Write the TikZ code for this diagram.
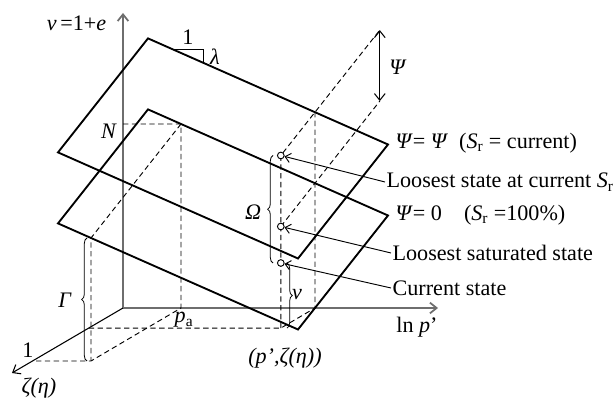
\documentclass[tikz,border=0pt]{standalone}
\usepackage{fontspec}
\setmainfont{Liberation Serif}
\usepackage{tikz}
\usetikzlibrary{arrows.meta,decorations.pathreplacing}
\definecolor{AxisGray}{HTML}{6E6E6E}

\begin{document}
\begin{tikzpicture}[x=7.5pt,y=7.5pt,font=\fontsize{16.6}{19}\selectfont,
  axis/.style={AxisGray,line width=1.3pt,-{Straight Barb[length=5pt,width=8pt]}},
  plane/.style={line width=1.4pt,line join=miter},
  guide/.style={dash pattern=on 4pt off 2.6pt,line width=.7pt},
  state/.style={circle,draw,fill=white,inner sep=0pt,minimum size=5pt,line width=.7pt},
  note/.style={-{Straight Barb[length=4pt,width=7pt]},line width=.7pt},
  curly/.style={decorate,decoration={brace,amplitude=4pt},line width=.6pt},
  lbl/.style={anchor=west,inner sep=1pt}]
\useasboundingbox (-12.3,-9) rectangle (49.3,30.8);
% axes
\coordinate (o) at (0,0);
\coordinate (vtop) at (0,29.5);
\coordinate (pend) at (31.5,0);
\coordinate (zend) at (-11.1,-6.5);
\draw[axis] (o)--(vtop);
\draw[axis] (o)--(pend);
\draw[line width=.8pt,-{Straight Barb[length=5pt,width=8pt]}] (o)--(zend);
% the two planes, Psi = 0 and Psi = Psi
\foreach \dy in {0,7.1}{\draw[plane,shift={(0,\dy)}] (2.5,19.86)--(26.5,9.25)--(17.5,-2.15)--(-6.5,8.46)--cycle;}
% construction lines
\coordinate (pup) at (15.78,15.25);
\coordinate (psat) at (15.78,8.15);
\coordinate (pcur) at (15.78,4.5);
\coordinate (pbase) at (15.78,-2.01);
\coordinate (psitop) at (25.68,27.79);
\coordinate (psibot) at (25.68,20.69);
\draw[guide] (0,18.4)--(5.8,18.4)--(5.8,0)--(-3.2,-5.3)--(-9,-5.3);
\draw[guide] (5.8,18.4)--(-3.2,7.0)--(-3.2,-5.3);
\draw[guide] (-3.42,-2.01)--(pbase)--(19.2,0)--(19.2,19.58);
\draw[guide] (pbase)--(pup)--(psitop);
\draw[guide] (psat)--(psibot);
\draw[line width=.8pt,{Straight Barb[length=5pt,width=8pt]}-{Straight Barb[length=5pt,width=8pt]}] (psibot)--(psitop);
% slope 1 : lambda
\draw[line width=.7pt] (5.0,25.85)--(8.0,25.85)--(8.0,24.53);
% states
\node[state] (sup) at (pup) {};
\node[state] (ssat) at (psat) {};
\node[state] (scur) at (pcur) {};
% braces
\draw[curly] (-3.6,-5.3)--(-3.6,7.0);
\draw[curly] (15.0,4.5)--(15.0,15.25);
\draw[curly] (16.4,4.5)--(16.4,-2.01);
% labels
\node (vlab) at (-4.65,28.5) {\textit{v}\,=1+\textit{e}};
\node (nlab) at (-1.4,17.7) {\textit{N}};
\node (slope1) at (6.5,27.1) {1};
\node (lam) at (9.2,25.1) {\textit{λ}};
\node (psilab) at (27.5,24.1) {\textit{Ψ}};
\node (glab) at (-5.8,0.8) {\textit{Γ}};
\node (olab) at (13.0,9.6) {\textit{Ω}};
\node (vvlab) at (17.4,1.3) {\textit{v}};
\node (palab) at (6.1,-1.2) {\textit{p}\textsubscript{a}};
\node (lnp) at (29.4,-1.9) {ln \textit{p}’};
\node (pzlab) at (16.2,-5.0) {\textit{(p’,ζ(η))}};
\node (onelab) at (-9.5,-4.2) {1};
\node (zlab) at (-8.4,-8.0) {\textit{ζ(η)}};
\node[lbl] (tpsi) at (27.1,16.5) {\textit{Ψ}= \textit{Ψ}\ \ (\textit{S}\textsubscript{r} = current)};
\node[lbl] (tup) at (26.2,12.6) {Loosest state at current \textit{S}\textsubscript{r}};
\node[lbl] (tzero) at (27.1,9.3) {\textit{Ψ}= 0\quad (\textit{S}\textsubscript{r} =100\%)};
\node[lbl] (tsat) at (26.8,5.5) {Loosest saturated state};
\node[lbl] (tcur) at (26.8,2.0) {Current state};
\draw[note] (tup.west)--(sup);
\draw[note] (tsat.west)--(ssat);
\draw[note] (tcur.west)--(scur);
\end{tikzpicture}
\end{document}
